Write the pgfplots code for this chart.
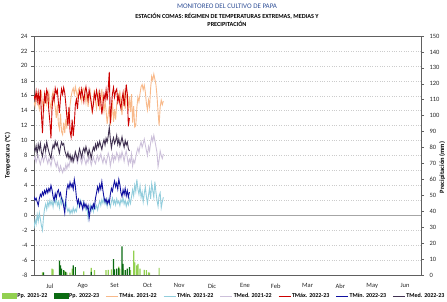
\documentclass[border=0pt]{standalone}
\usepackage{pgfplots}
\pgfplotsset{compat=1.18}
\usepackage{pgfplotstable}
\usepackage{fontspec}
\setmainfont{Carlito}

\definecolor{titleblue}{HTML}{2F4F96}
\definecolor{ppLight}{HTML}{92D050}
\definecolor{ppDark}{HTML}{0B6B12}
\definecolor{tmaxA}{HTML}{F8B98A}
\definecolor{tminA}{HTML}{92CDDC}
\definecolor{tmedA}{HTML}{CCC0DA}
\definecolor{tmaxB}{HTML}{CC0000}
\definecolor{tminB}{HTML}{1010A0}
\definecolor{tmedB}{HTML}{403151}

% TMax 2022-23 (days from 1 Jul)
\pgfplotstableread{
v
16.0
15.5
16.6
15.2
16.4
14.8
16.8
13.5
11.0
14.6
16.2
15.0
16.8
16.3
14.0
12.5
10.3
14.2
16.0
15.4
17.0
16.3
16.8
15.1
13.7
15.8
16.9
16.2
17.1
16.4
14.9
13.2
12.0
14.5
11.2
10.5
12.8
10.6
12.2
14.8
15.5
14.2
16.0
16.6
15.8
16.9
16.1
15.2
16.5
17.2
16.3
15.4
16.8
16.0
15.1
13.9
14.8
16.3
15.6
16.7
15.9
14.6
16.4
15.3
13.5
14.8
16.2
15.5
16.8
15.4
17.0
19.2
12.3
14.5
16.3
17.1
15.8
16.6
16.9
15.2
16.0
14.9
14.3
15.6
16.4
14.6
15.9
17.5
16.2
11.9
13.0
}\tmaxB

% TMed 2022-23
\pgfplotstableread{
v
9.0
8.6
9.3
8.2
9.5
8.8
9.6
8.4
7.9
8.8
9.4
8.6
9.8
9.1
8.5
8.0
7.6
8.7
9.4
9.0
9.9
9.3
9.7
8.9
8.3
9.2
9.8
9.4
9.6
8.7
8.2
7.8
8.4
7.6
8.1
7.3
7.9
7.2
7.8
8.5
8.0
7.4
8.2
8.9
8.3
7.7
8.6
9.0
8.4
9.2
8.6
7.9
8.8
8.3
7.6
8.5
9.1
8.7
9.5
8.9
9.7
9.2
9.9
9.3
8.8
9.6
10.1
9.4
10.3
9.8
10.6
11.8
10.2
9.0
9.9
10.4
9.6
10.0
10.7
9.5
10.2
9.3
9.8
10.5
9.7
9.1
10.0
9.4
9.8
8.9
8.6
}\tmedB

% TMin 2022-23
\pgfplotstableread{
v
2.5
2.0
2.3
1.8
1.3
2.2
2.8
2.5
3.1
2.7
3.3
2.9
3.5
3.0
3.6
3.2
4.0
3.4
2.5
2.0
2.9
2.3
3.1
3.4
2.6
3.0
2.2
1.9
1.2
0.3
2.0
3.5
4.1
3.6
4.4
3.8
4.2
3.5
4.8
3.9
2.4
1.6
2.1
1.2
1.8
1.4
0.8
1.7
1.1
1.5
0.9
1.3
-0.4
0.6
1.2
0.9
1.5
1.0
2.3
3.0
3.8
3.2
4.1
3.5
4.5
3.3
2.4
1.8
2.2
1.5
2.0
1.6
2.8
3.6
3.2
4.0
4.6
3.8
4.3
3.5
4.8
4.1
3.0
2.5
3.4
2.8
3.6
2.6
3.3
2.4
3.1
}\tminB

% TMax 2021-22
\pgfplotstableread{
v
15.2
14.6
15.8
16.3
15.0
14.2
15.6
16.4
15.1
13.8
15.5
16.2
14.9
15.7
16.5
15.0
14.2
15.9
16.6
15.3
14.5
13.0
14.8
12.2
11.5
13.6
11.2
10.8
12.4
11.0
12.9
11.6
13.8
12.5
14.7
15.9
16.6
17.0
16.2
17.2
16.5
15.8
16.9
17.1
16.0
15.2
16.7
17.0
16.3
15.1
16.4
14.5
15.8
16.6
14.9
13.6
15.5
16.8
15.2
14.3
15.9
16.5
14.1
15.6
16.9
15.0
13.9
15.3
14.0
12.2
13.5
14.6
12.0
13.2
15.4
12.5
14.2
12.8
14.9
16.1
15.3
16.7
14.8
13.4
15.7
16.5
14.2
15.8
16.3
14.0
15.9
13.8
16.2
12.4
14.6
11.8
12.0
14.4
15.8
15.2
16.3
17.2
17.5
16.8
17.4
16.5
15.0
14.1
15.4
14.5
17.0
18.6
18.1
18.9
18.2
17.5
16.0
13.8
12.0
14.5
15.4
14.8
15.3
}\tmaxA

% TMed 2021-22
\pgfplotstableread{
v
7.4
7.9
7.1
7.6
8.0
7.3
6.8
7.5
7.9
7.2
7.7
8.1
7.4
6.9
7.6
7.2
6.6
7.4
7.9
7.5
7.0
6.5
7.1
6.4
5.9
6.6
6.1
5.7
6.3
6.0
6.8
6.2
6.9
6.5
7.3
7.6
7.1
7.8
7.4
8.0
7.5
7.0
7.7
8.1
7.4
6.9
7.6
8.0
7.3
6.8
7.5
7.1
7.9
7.4
6.7
7.3
7.8
7.2
6.9
7.6
8.0
7.3
7.7
8.2
7.5
7.0
7.8
7.4
6.9
7.6
8.3
7.8
6.6
7.4
8.1
7.2
7.9
7.5
8.4
8.0
7.3
8.2
7.6
8.5
7.9
7.2
8.1
8.6
7.7
6.8
7.5
7.1
8.2
6.6
7.4
7.0
7.8
8.5
9.0
8.4
9.3
9.8
9.1
9.6
10.2
9.4
8.7
8.0
9.2
8.6
9.7
10.5
9.9
10.7
10.0
9.2
8.4
6.5
7.4
8.6
8.0
7.6
8.2
}\tmedA

% TMin 2021-22
\pgfplotstableread{
v
-1.8
-0.6
-1.2
0.1
-0.8
0.3
-0.5
-1.4
-2.0
-0.2
0.9
1.5
0.8
1.8
1.2
2.0
1.4
1.9
1.1
2.2
1.6
2.3
1.3
1.8
1.0
2.1
1.5
2.2
1.7
1.2
1.9
1.0
0.5
0.9
0.2
0.7
0.3
1.0
0.4
0.8
0.5
1.3
1.9
1.2
2.0
1.5
1.0
1.8
1.3
0.7
1.1
-0.4
0.8
1.4
0.6
1.2
0.5
1.5
0.9
1.3
0.7
1.4
1.9
1.3
2.1
1.6
2.3
1.5
1.9
1.2
2.2
1.7
1.1
1.8
2.3
1.5
2.0
1.4
2.2
1.6
1.9
1.3
2.1
1.7
2.3
1.5
2.0
1.2
1.8
1.4
2.2
1.6
2.5
3.4
2.6
4.0
3.2
4.8
3.5
2.8
3.9
2.4
3.1
1.8
2.9
3.8
2.5
1.6
2.7
3.6
2.2
4.2
3.3
2.4
4.5
3.1
2.0
1.2
2.6
3.0
1.0
1.8
2.4
}\tminA

\pgfplotsset{
  legend image code/.code={\draw[#1, line width=0.9pt] (0pt,0pt) -- (12pt,0pt);}
}

\begin{document}
\begin{tikzpicture}
\begin{axis}[
  at={(0,0)}, anchor=south west,
  scale only axis, width=387pt, height=239pt,
  xmin=0, xmax=365, ymin=-8, ymax=24,
  ytick={-8,-6,...,24},
  xtick={15,46,76,107,137,168,199,228,258,289,319,350},
  xticklabels={Jul,Ago,Set,Oct,Nov,Dic,Ene,Feb,Mar,Abr,May,Jun},
  x tick style={draw=none},
  xticklabel style={yshift=-2pt},
  extra y ticks={0},
  extra y tick labels={},
  extra y tick style={grid=major, major grid style={solid, gray!70, line width=0.6pt}, y tick style={draw=none}},
  ymajorgrids,
  major grid style={dotted, gray!40, line width=0.4pt},
  axis line style={gray!75!black, line width=0.6pt},
  y tick style={gray!75!black, line width=0.5pt},
  major tick length=3pt,
  tick align=outside, tick pos=left,
  ticklabel style={font=\fontsize{6.5}{7}\selectfont, text=black!85},
  /pgf/number format/assume math mode=true,
  ylabel={Temperatura (°C)},
  ylabel style={font=\bfseries\fontsize{6.5}{7}\selectfont, at={(axis description cs:-0.068,0.5)}, anchor=center},
  legend columns=8,
  legend style={at={(axis description cs:-0.083,-0.088)}, anchor=west,
    draw=none, fill=none, inner sep=0pt,
    font=\bfseries\fontsize{6}{6.5}\selectfont,
    nodes={inner sep=1pt},
    /tikz/every even column/.append style={column sep=5.4pt}},
]
\addlegendimage{legend image code/.code={\fill[ppLight] (0pt,-2.6pt) rectangle (14pt,2.6pt);}}
\addlegendentry{Pp. 2021-22}
\addlegendimage{legend image code/.code={\fill[ppDark] (0pt,-2.6pt) rectangle (14pt,2.6pt);}}
\addlegendentry{Pp. 2022-23}
\addplot[tmaxA, line width=0.9pt] table[x expr=\coordindex, y=v] {\tmaxA};
\addlegendentry{TMáx. 2021-22}
\addplot[tminA, line width=0.9pt] table[x expr=\coordindex, y=v] {\tminA};
\addlegendentry{TMín. 2021-22}
\addplot[tmedA, line width=0.9pt] table[x expr=\coordindex, y=v] {\tmedA};
\addlegendentry{TMed. 2021-22}
\addplot[tmaxB, line width=0.9pt] table[x expr=\coordindex, y=v] {\tmaxB};
\addlegendentry{TMáx. 2022-23}
\addplot[tminB, line width=0.9pt] table[x expr=\coordindex, y=v] {\tminB};
\addlegendentry{TMín. 2022-23}
\addplot[tmedB, line width=0.9pt] table[x expr=\coordindex, y=v] {\tmedB};
\addlegendentry{TMed. 2022-23}
\end{axis}

\begin{axis}[
  at={(0,0)}, anchor=south west,
  scale only axis, width=387pt, height=239pt,
  xmin=0, xmax=365, ymin=0, ymax=150,
  ytick={0,10,...,150},
  axis y line*=right, axis x line=none,
  axis line style={gray!75!black, line width=0.6pt},
  y tick style={gray!75!black, line width=0.5pt},
  major tick length=3pt,
  tick align=outside,
  ticklabel style={font=\fontsize{6.5}{7}\selectfont, text=black!85},
  yticklabel style={xshift=2pt},
  /pgf/number format/assume math mode=true,
  ylabel={Precipitación (mm)},
  ylabel style={font=\bfseries\fontsize{6.5}{7}\selectfont, at={(axis description cs:1.055,0.45)}, anchor=center, rotate=0},
]
\addplot[ybar, bar width=1.2pt, bar shift=0pt, fill=ppLight, draw=none] coordinates {
(8,1.7) (17,4) (18,3.5) (26,3) (29,2.5) (31,1.5) (34,1.5) (36,4) (47,2.3) (54,4.4) (57,3) (68,3) (70,3.2) (73,3.5) (80,5.2) (81,3.8) (84,4) (91,3) (94,15.3) (95,8) (97,6) (98,7) (100,4) (104,3.2) (106,3) (108,1.7) (109,1.5) (118,4.4)
};
\addplot[ybar, bar width=1.2pt, bar shift=0pt, fill=ppDark, draw=none] coordinates {
(9,1.7) (24,9) (25,6) (26,4) (28,3) (30,2) (37,6) (39,5) (54,2) (75,10) (76,3.5) (78,4) (80,4.5) (83,18) (84,7) (86,3) (88,4) (90,5)
};
\end{axis}

\node[font=\fontsize{7}{8}\selectfont, text=titleblue] at (193pt,269pt) {MONITOREO DEL CULTIVO DE PAPA};
\node[font=\bfseries\fontsize{6.2}{7.2}\selectfont, align=center, inner sep=0pt] at (193pt,255pt) {ESTACIÓN COMAS: RÉGIMEN DE TEMPERATURAS EXTREMAS, MEDIAS Y\\PRECIPITACIÓN};

\pgfresetboundingbox
\useasboundingbox (-34pt,-27pt) rectangle (413pt,275pt);
\end{tikzpicture}
\end{document}
